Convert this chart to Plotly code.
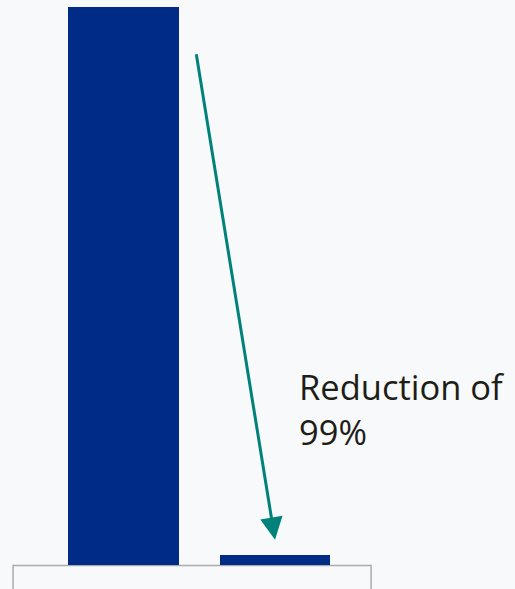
import plotly.graph_objects as go

categories = ["Before", "After"]
values = [100, 1.8]
label_text = "Reduction of<br>99%"

BAR_COLOR = "#002b87"
ARROW_COLOR = "#00817a"
BG = "#f8f9fb"

fig = go.Figure()
fig.add_trace(go.Bar(
    x=[0, 1], y=values, width=[0.733, 0.726],
    marker=dict(color=BAR_COLOR, line=dict(width=0)),
    hoverinfo="skip", showlegend=False,
))

# arrow from top of first bar down to the second bar
fig.add_annotation(
    x=1, y=values[1] + 2.8, xref="x", yref="y",
    ax=0.479, ay=values[0] * 0.918, axref="x", ayref="y",
    text="", showarrow=True, arrowhead=2, arrowsize=1.5, arrowwidth=3,
    arrowcolor=ARROW_COLOR,
)

fig.add_annotation(
    x=1.145, y=28.0, xref="x", yref="y", xanchor="left", yanchor="middle",
    text=label_text, showarrow=False, align="left",
    font=dict(family="Open Sans", size=34.5, color="#1e1e18"),
)

# label box below the bars
fig.add_shape(
    type="rect", xref="x", yref="y", x0=-0.729, x1=1.634, y0=0, y1=-20,
    line=dict(color="#ababab", width=1.5), fillcolor=BG, layer="below",
)

fig.update_layout(
    width=515, height=589,
    margin=dict(l=0, r=0, t=0, b=0),
    paper_bgcolor=BG, plot_bgcolor=BG,
    xaxis=dict(range=[-0.815, 2.584], visible=False, fixedrange=True),
    yaxis=dict(range=[-4.21, 101.25], visible=False, fixedrange=True),
    bargap=0,
)

fig.write_html(
    "out.html",
    config={"displayModeBar": False},
    post_script="document.body.style.margin='0';document.body.style.background='%s';" % BG,
)
